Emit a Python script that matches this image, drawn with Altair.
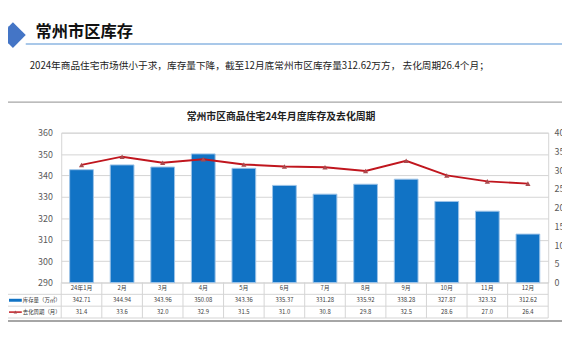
import altair as alt
import pandas as pd

months = ["24年1月", "2月", "3月", "4月", "5月", "6月", "7月", "8月", "9月", "10月", "11月", "12月"]
inventory = [342.71, 344.94, 343.96, 350.08, 343.36, 335.37, 331.28, 335.92, 338.28, 327.87, 323.32, 312.62]
cycle = [31.4, 33.6, 32.0, 32.9, 31.5, 31.0, 30.8, 29.8, 32.5, 28.6, 27.0, 26.4]
left_ticks = [290, 300, 310, 320, 330, 340, 350, 360]
right_ticks = [0, 5, 10, 15, 20, 25, 30, 35, 40]

header = "常州市区库存"
subtitle = "2024年商品住宅市场供小于求，库存量下降，截至12月底常州市区库存量312.62万方， 去化周期26.4个月；"
chart_title = "常州市区商品住宅24年月度库存及去化周期"
row_labels = ["库存量（万㎡）", "去化周期（月）"]

df = pd.DataFrame({"month": months, "inv": inventory, "cyc": cycle})
df["inv_s"] = [f"{v:.2f}" for v in inventory]
df["cyc_s"] = [f"{v:.1f}" for v in cycle]

W, H = 494, 152
FONT = "Noto Sans CJK SC"
BLUE = "#1173C5"
RED = "#C0161E"
GRID = "#D4D4D4"

xfield = alt.X("month:N", sort=months, scale=alt.Scale(paddingInner=0, paddingOuter=0), axis=None)

base = alt.Chart(df)

bars = base.mark_bar(width={"band": 0.585}, fill=BLUE, stroke="#9CC3E8", strokeWidth=1).encode(
    x=xfield,
    y=alt.Y("inv:Q", scale=alt.Scale(domain=[290, 360], nice=False, zero=False),
            axis=alt.Axis(values=left_ticks, title=None, grid=True, gridColor=GRID, domain=False,
                          ticks=False, labelPadding=9, labelFontSize=9, labelColor="#595959",
                          labelFont=FONT)),
    y2=alt.datum(290),
)

line = base.mark_line(
    color=RED, strokeWidth=2,
    point=alt.OverlayMarkDef(shape="triangle-up", filled=True, color="#A94A4E", size=28),
).encode(
    x=xfield,
    y=alt.Y("cyc:Q", scale=alt.Scale(domain=[0, 40], nice=False),
            axis=alt.Axis(values=right_ticks, title=None, grid=False, domain=False, ticks=False,
                          orient="right", labelPadding=6, labelFontSize=9, labelColor="#595959",
                          labelFont=FONT)),
)

def txt(val, x, y, size, color="#333333", weight="normal", align="left"):
    return alt.Chart(pd.DataFrame({"t": [val]})).mark_text(
        font=FONT, fontSize=size, color=color, fontWeight=weight, align=align, baseline="middle"
    ).encode(x=alt.value(x), y=alt.value(y), text="t:N")

def hrule(y, x1, x2, color=GRID, w=1):
    return alt.Chart(pd.DataFrame({"t": [0]})).mark_rule(color=color, strokeWidth=w).encode(
        x=alt.value(x1), x2=alt.value(x2), y=alt.value(y))

def vrule(x, y1, y2, color=GRID, w=1):
    return alt.Chart(pd.DataFrame({"t": [0]})).mark_rule(color=color, strokeWidth=w).encode(
        x=alt.value(x), y=alt.value(y1), y2=alt.value(y2))

deco = []
# header diamonds
deco.append(alt.Chart(pd.DataFrame({"t": [0]})).mark_point(
    shape="diamond", filled=False, stroke="#A9C8EA", strokeWidth=1, size=676, opacity=1
).encode(x=alt.value(-58), y=alt.value(-99)))
deco.append(alt.Chart(pd.DataFrame({"t": [0]})).mark_point(
    shape="diamond", filled=True, fill="#4475C6", size=676, opacity=1
).encode(x=alt.value(-49), y=alt.value(-99)))
deco.append(txt(header, -26, -102, 16.5, "#111111", "bold"))
deco.append(hrule(-90, -36, 508, "#8DB6E2", 1.5))
deco.append(txt(subtitle, -32, -68, 9.8, "#222222"))
# frame
deco.append(hrule(-31, -54, 508, "#A6A6A6", 1.5))
deco.append(hrule(191, -54, 508, "#A6A6A6", 2))
deco.append(txt(chart_title, 223, -16, 10, "#222222", "bold", "center"))

# table grid
for yy in [164, 176, 188]:
    deco.append(hrule(yy, -56, W))
deco.append(vrule(-56, 164, 188))
deco.append(vrule(W, 152, 188))
cells = base.mark_rule(color=GRID, strokeWidth=1).encode(
    x=alt.X("month:N", sort=months, bandPosition=0), y=alt.value(152), y2=alt.value(188))

cat_txt = base.mark_text(font=FONT, fontSize=6, color="#404040", baseline="middle").encode(
    x=alt.X("month:N", sort=months), y=alt.value(158), text="month:N")
inv_txt = base.mark_text(font=FONT, fontSize=6, color="#404040", baseline="middle").encode(
    x=alt.X("month:N", sort=months), y=alt.value(170), text="inv_s:N")
cyc_txt = base.mark_text(font=FONT, fontSize=6, color="#404040", baseline="middle").encode(
    x=alt.X("month:N", sort=months), y=alt.value(182), text="cyc_s:N")

# legend cells
deco.append(hrule(170, -53, -40, BLUE, 3))
deco.append(txt(row_labels[0], -39, 170, 5.5, "#333333"))
deco.append(hrule(182, -53, -40, RED, 1.5))
deco.append(alt.Chart(pd.DataFrame({"t": [0]})).mark_point(
    shape="triangle-up", filled=True, color="#A94A4E", size=12, opacity=1
).encode(x=alt.value(-46.5), y=alt.value(182)))
deco.append(txt(row_labels[1], -39, 182, 5.5, "#333333"))

chart = alt.layer(bars, line, cells, cat_txt, inv_txt, cyc_txt, *deco).resolve_scale(
    y="independent"
).properties(
    width=W, height=H,
    autosize=alt.AutoSizeParams(type="none"),
    padding={"left": 54, "top": 124, "right": 14, "bottom": 68},
    background="white",
).configure_view(stroke=GRID, strokeWidth=1)

chart.save("out.html", embed_options={"renderer": "svg", "actions": False})
